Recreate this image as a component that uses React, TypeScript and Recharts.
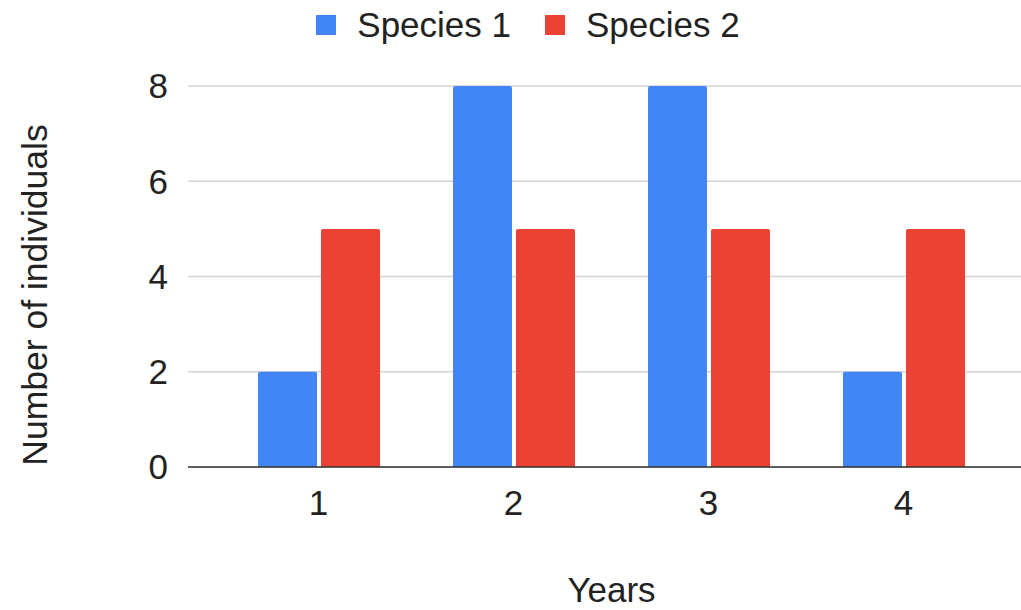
import React from 'react';
import { BarChart, Bar, XAxis, YAxis, CartesianGrid, Legend, Label } from 'recharts';

const years = ['1', '2', '3', '4'];
const species1 = [2, 8, 8, 2];
const species2 = [5, 5, 5, 5];
const yTicks = [0, 2, 4, 6, 8];
const seriesNames = ['Species 1', 'Species 2'];
const seriesColors = ['#4285F4', '#EA4335'];

const data = years.map((y, i) => ({ year: y, s1: species1[i], s2: species2[i] }));

const FONT = '"Liberation Sans", Arial, sans-serif';

const LegendContent = (props: any) => {
  const payload = props.payload || [];
  return (
    <div style={{ display: 'flex', justifyContent: 'center', alignItems: 'center', height: 50, paddingLeft: 35, fontFamily: FONT, fontSize: 35, color: '#222' }}>
      {payload.map((p: any, i: number) => (
        <div key={i} style={{ display: 'flex', alignItems: 'center', marginRight: i === 0 ? 34 : 0 }}>
          <div style={{ width: 20, height: 20, background: p.color, marginRight: 21 }} />
          <span>{p.value}</span>
        </div>
      ))}
    </div>
  );
};

const YLabel = () => {
  const x = 47;
  const y = 295;
  return (
    <text x={x} y={y} transform={`rotate(-90, ${x}, ${y})`} textAnchor="middle" fontFamily={FONT} fontSize={35.5} fill="#222">
      Number of individuals
    </text>
  );
};

export default function App() {
  return (
    <div style={{ position: 'absolute', left: 0, top: 0 }}>
      <BarChart width={1021} height={610} data={data} margin={{ top: 86, right: 0, bottom: 0, left: 0 }} barSize={59} barGap={4}>
        <CartesianGrid vertical={false} stroke="#d4d4d4" strokeWidth={1.5} />
        <XAxis
          dataKey="year"
          height={143}
          padding={{ left: 33, right: 20 }}
          tickLine={false}
          tickMargin={17}
          axisLine={{ stroke: '#333', strokeWidth: 1.5 }}
          tick={{ fontFamily: FONT, fontSize: 35, fill: '#222' }}
        >
          <Label value="Years" position="insideBottom" offset={8} dx={7} style={{ fontFamily: FONT, fontSize: 35, fill: '#222' }} />
        </XAxis>
        <YAxis
          width={188}
          domain={[0, 8]}
          ticks={yTicks}
          tickLine={false}
          axisLine={false}
          tickMargin={14}
          tick={{ fontFamily: FONT, fontSize: 35, fill: '#222' }}
        >
          <Label content={<YLabel />} />
        </YAxis>
        <Legend layout="horizontal" verticalAlign="middle" wrapperStyle={{ top: 0, left: 0, width: 1021 }} content={<LegendContent />} />
        <Bar dataKey="s1" name={seriesNames[0]} fill={seriesColors[0]} radius={[2, 2, 0, 0]} isAnimationActive={false} />
        <Bar dataKey="s2" name={seriesNames[1]} fill={seriesColors[1]} radius={[2, 2, 0, 0]} isAnimationActive={false} />
      </BarChart>
    </div>
  );
}
